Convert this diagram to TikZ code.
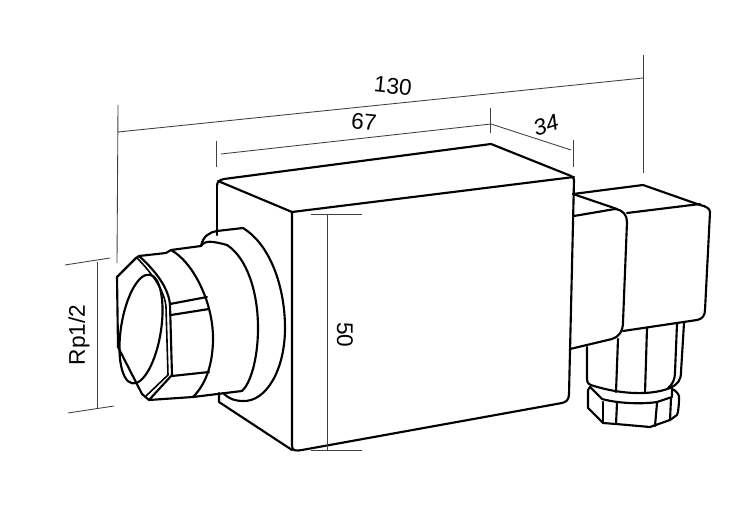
\documentclass[tikz,border=0pt]{standalone}
\usepackage{fontspec}
\setmainfont{Liberation Sans}
\begin{document}
\begin{tikzpicture} [
  x=0.75pt,y=-0.75pt,
  body/.style={draw=black,line width=1.6pt,line join=round,line cap=round},
  dim/.style={draw=black!75,line width=0.65pt},
  size/.style={font=\fontsize{17}{17}\selectfont,inner sep=0}
  ]
  \useasboundingbox (0,0) rectangle (752,505);
  % housing
  \draw [body] (217,186) .. controls (217,182) and (219,180) .. (224,179) -- (491,144) -- (571,176)
    .. controls (573,177) and (574,178) .. (574,180) -- (569,394)
    .. controls (569,400) and (566,402) .. (562,403) -- (302,450)
    .. controls (296,451) and (292,451) .. (292,446) -- (292,212) -- (218,181);
  \draw [body] (292,212) -- (574,177);
  \draw [body] (217,186) -- (217,235);
  \draw [body] (219,393) -- (219,402) -- (292,450);
  % flange
  \draw [body] (201,246) .. controls (203,236) and (210,232) .. (217,231) -- (243,228)
    .. controls (272,246) and (285,290) .. (285,328)
    .. controls (285,370) and (266,402) .. (243,401)
    .. controls (234,401) and (228,398) .. (223,393);
  \draw [body] (201,246) .. controls (205,240) and (212,241) .. (227,245)
    .. controls (247,258) and (258,292) .. (258,328)
    .. controls (258,360) and (250,384) .. (242,391);
  % nut
  \draw [body] (139,256) -- (166,253) -- (171,250) -- (201,246);
  \draw [body] (171,250) .. controls (193,262) and (213,302) .. (213,338)
    .. controls (213,360) and (208,382) .. (193,397);
  \draw [body] (149,400) -- (193,397) -- (242,391);
  \draw [body] (117,277) -- (136,258) -- (139,256) .. controls (158,273) and (169,290) .. (170,305)
    -- (172,375) -- (149,400) -- (142,394) -- (118,347) -- cycle;
  \draw [body,line width=1.2pt] (137,258) .. controls (153,274) and (165,292) .. (166,307)
    -- (168,375) -- (146,396);
  \draw [body] (141,329) ellipse [x radius=20,y radius=55,rotate=-9];
  \draw [body] (170,304) -- (207,297);
  \draw [body] (171,315) -- (209,309);
  \draw [body] (172,376) -- (209,372);
  % plug
  \draw [body] (574,216) -- (615,209) .. controls (623,210) and (627,215) .. (627,222)
    -- (623,322) .. controls (623,331) and (619,337) .. (612,339) -- (570,349);
  \draw [body] (573,194) -- (643,185) -- (700,205) .. controls (706,206) and (710,209) .. (710,212)
    -- (705,310) .. controls (705,316) and (702,319) .. (697,320) -- (623,331);
  \draw [body] (573,194) -- (617,209);
  \draw [body] (627,213) -- (700,204);
  % gland
  \draw [body] (587,347) -- (587,379) .. controls (587,384) and (590,385) .. (594,386)
    .. controls (620,394) and (650,396) .. (670,388)
    .. controls (678,384) and (681,380) .. (681,372) -- (684,323);
  \draw [body] (677,324) -- (675,372) .. controls (675,380) and (672,385) .. (668,388);
  \draw [body] (618,339) -- (616,392);
  \draw [body] (647,328) -- (645,393);
  \draw [body] (590,387) -- (588,390) -- (588,408) -- (603,423) -- (616,424) -- (650,427) -- (670,420)
    -- (677,415) .. controls (679,410) and (679,400) .. (679,396) .. controls (678,393) and (675,390) .. (672,389);
  \draw [body] (590,387) -- (602,399) .. controls (620,404) and (645,404) .. (657,402) -- (672,397) -- (672,389);
  \draw [body] (603,402) -- (603,423);
  \draw [body] (617,403) -- (616,424);
  \draw [body] (657,403) -- (655,426);
  \draw [body] (671,398) -- (670,420);
  % dimensions
  \draw [dim] (118,105) -- (117,263);
  \draw [dim] (643,55) -- (643,173);
  \draw [dim] (118,132) -- (643,78);
  \draw [dim] (216,141) -- (216,167);
  \draw [dim] (490,108) -- (490,133);
  \draw [dim] (573,140) -- (573,167);
  \draw [dim] (221,154) -- (491,124) -- (571,150);
  \draw [dim] (311,214) -- (362,214);
  \draw [dim] (311,450) -- (362,450);
  \draw [dim] (327,214) -- (327,450);
  \draw [dim] (65,265) -- (110,258);
  \draw [dim] (68,413) -- (114,406);
  \draw [dim] (97,262) -- (97,408);
  \node [size,rotate=-5.9] (l130) at (393,86) {130};
  \node [size,rotate=-6] (l67) at (364,122) {67};
  \node [size,rotate=18,font=\fontsize{17}{17}\selectfont\itshape] (l34) at (546,125) {34};
  \node [size,rotate=-90] (l50) at (345,335) {50};
  \node [size,rotate=90] (lrp) at (79,335) {Rp1/2};
\end{tikzpicture}
\end{document}
